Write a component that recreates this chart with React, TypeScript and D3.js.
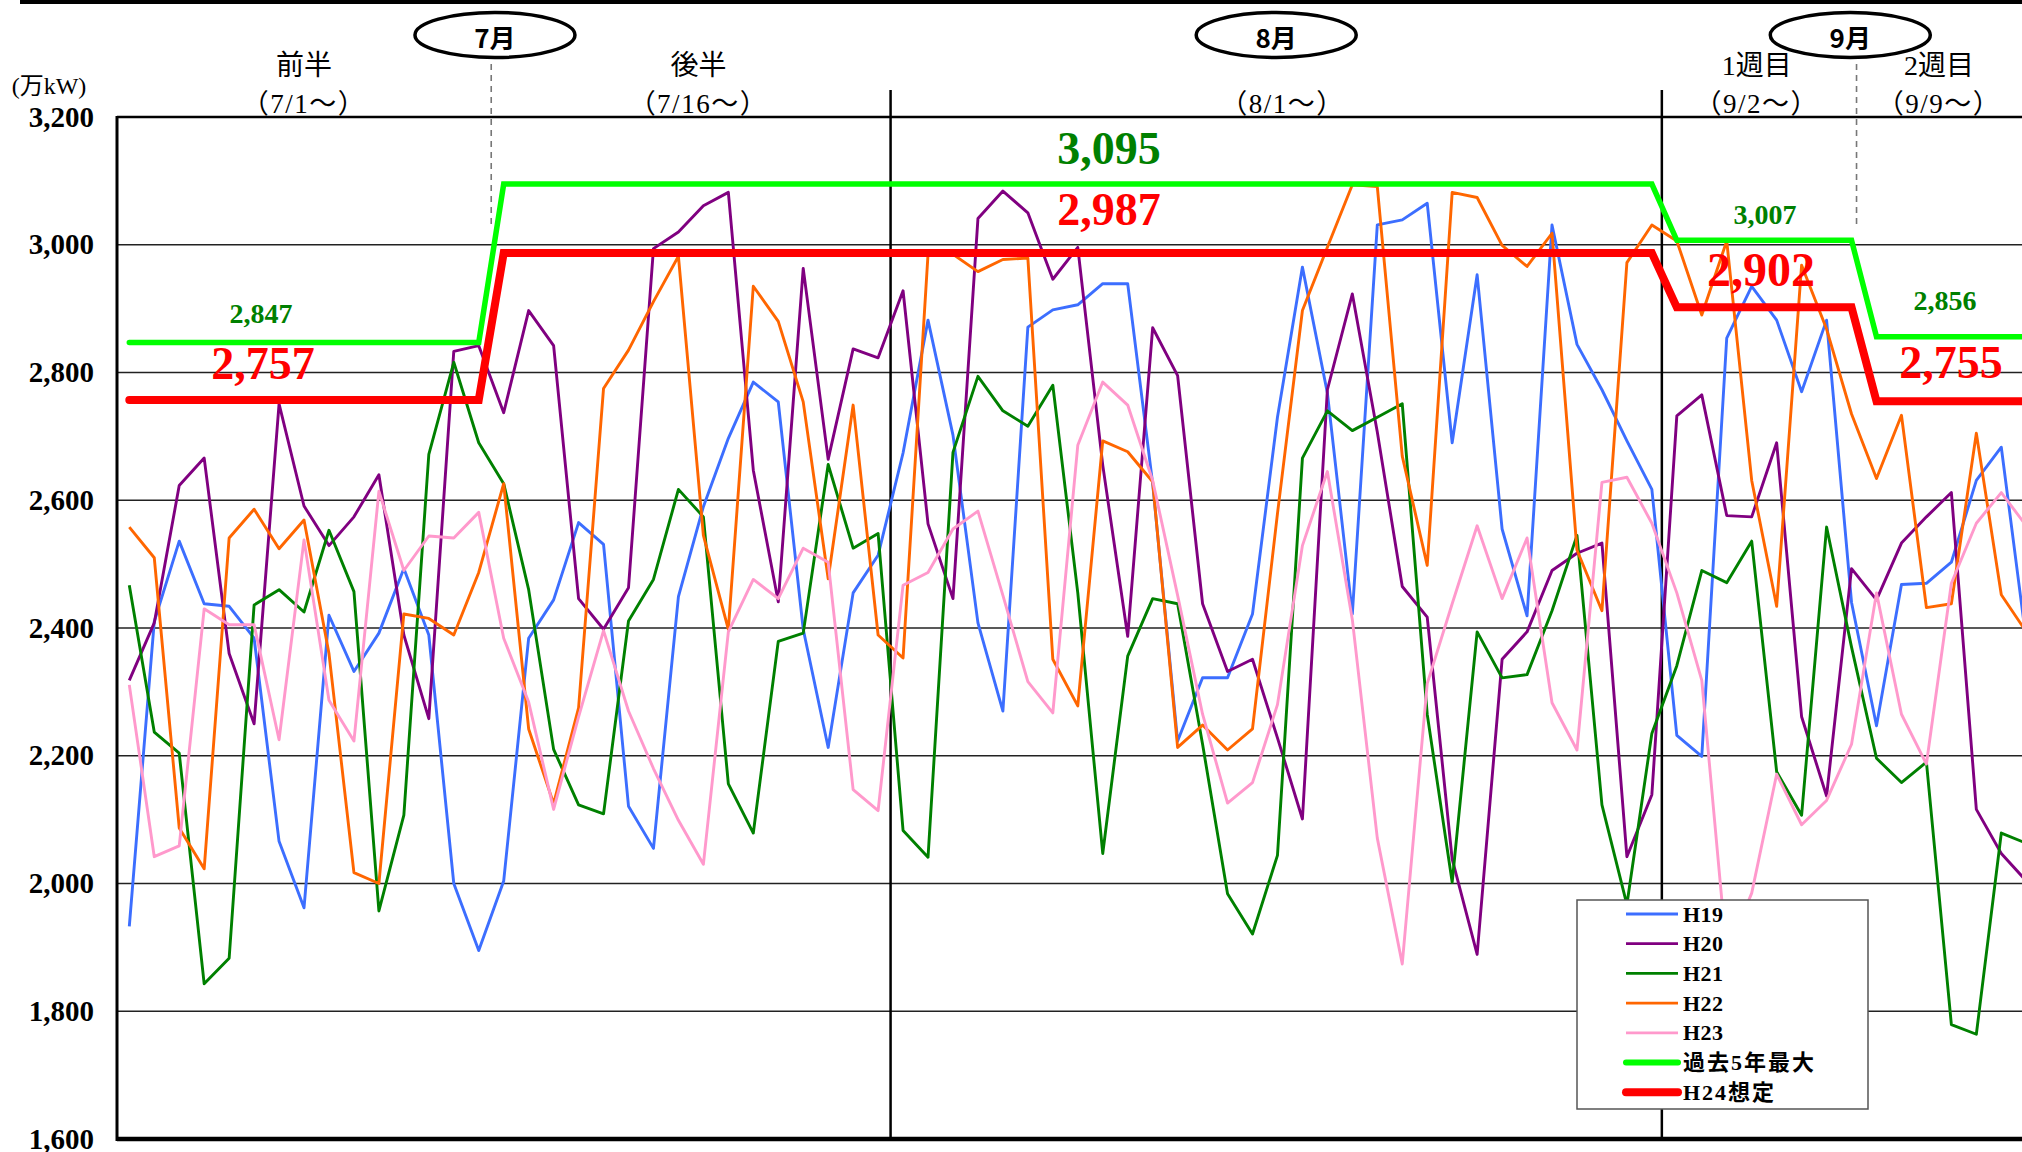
import React, { useEffect, useRef } from "react";
import * as d3 from "d3";

// daily peak demand (万kW), index 0 = 7/1 ... index 76 = 9/15
const days = d3.range(77);

const h19 = [1933, 2410, 2536, 2438, 2434, 2384, 2066, 1962, 2420, 2332, 2392, 2493, 2389, 2000, 1895, 2004, 2384, 2444, 2565, 2531,
  2121, 2055, 2449, 2590, 2697, 2785, 2754, 2398, 2213, 2455, 2514, 2674, 2882, 2702, 2408, 2270, 2871, 2898, 2906, 2939,
  2939, 2626, 2223, 2322, 2322, 2422, 2730, 2965, 2768, 2422, 3031, 3039, 3065, 2690, 2953, 2555, 2419, 3031, 2844, 2773,
  2693, 2617, 2232, 2199, 2854, 2935, 2882, 2770, 2882, 2440, 2247, 2468, 2470, 2503, 2631, 2683, 2380];
const h20 = [2318, 2408, 2623, 2666, 2360, 2250, 2751, 2591, 2529, 2574, 2640, 2389, 2258, 2833, 2842, 2737, 2897, 2842, 2446, 2398,
  2463, 2994, 3020, 3061, 3082, 2647, 2441, 2963, 2664, 2837, 2823, 2928, 2563, 2446, 3041, 3084, 3050, 2946, 2996, 2655,
  2387, 2870, 2795, 2438, 2332, 2351, 2228, 2101, 2773, 2923, 2707, 2465, 2417, 2038, 1889, 2351, 2394, 2490, 2517, 2533,
  2042, 2139, 2732, 2765, 2576, 2574, 2690, 2261, 2137, 2493, 2444, 2533, 2574, 2612, 2116, 2047, 2004];
const h21 = [2467, 2237, 2204, 1843, 1883, 2436, 2460, 2425, 2553, 2457, 1957, 2107, 2672, 2816, 2690, 2626, 2460, 2210, 2123, 2109,
  2411, 2476, 2617, 2574, 2156, 2079, 2379, 2392, 2656, 2525, 2548, 2083, 2041, 2675, 2794, 2740, 2716, 2780, 2455, 2047,
  2356, 2446, 2438, 2218, 1984, 1921, 2044, 2666, 2740, 2709, 2730, 2751, 2265, 2002, 2394, 2322, 2327, 2427, 2545, 2123,
  1967, 2235, 2341, 2490, 2471, 2536, 2175, 2107, 2558, 2370, 2196, 2158, 2190, 1779, 1764, 2079, 2063];
const h22 = [2558, 2510, 2087, 2023, 2541, 2586, 2524, 2569, 2360, 2017, 2000, 2422, 2415, 2389, 2487, 2626, 2242, 2125, 2275, 2775,
  2835, 2911, 2982, 2545, 2398, 2935, 2880, 2754, 2477, 2749, 2389, 2353, 2985, 2985, 2958, 2977, 2979, 2351, 2278, 2693,
  2676, 2629, 2213, 2248, 2209, 2242, 2579, 2897, 2996, 3094, 3091, 2669, 2498, 3082, 3074, 2999, 2966, 3018, 2522, 2427,
  2972, 3031, 3006, 2890, 3006, 2631, 2434, 2968, 2868, 2735, 2634, 2733, 2432, 2438, 2705, 2452, 2394];
const h23 = [2311, 2042, 2059, 2430, 2405, 2405, 2225, 2538, 2287, 2223, 2614, 2490, 2544, 2541, 2581, 2384, 2284, 2116, 2261, 2396,
  2270, 2180, 2099, 2030, 2394, 2476, 2446, 2525, 2503, 2147, 2114, 2467, 2487, 2555, 2583, 2451, 2316, 2267, 2686, 2785,
  2749, 2631, 2451, 2265, 2126, 2158, 2280, 2529, 2645, 2413, 2071, 1874, 2313, 2438, 2560, 2446, 2541, 2283, 2209, 2628,
  2636, 2564, 2455, 2318, 1890, 1985, 2171, 2092, 2130, 2218, 2455, 2265, 2187, 2470, 2564, 2612, 2560];

const seriesNames = ["H19", "H20", "H21", "H22", "H23"];
const seriesValues = [h19, h20, h21, h22, h23];
const seriesColors = ["#3c6eff", "#800080", "#008000", "#ff6600", "#ff99cc"];

// period values (start day index, end day index, value)
const maxPeriods = [
  { start: 0, end: 14, value: 2847 },
  { start: 15, end: 61, value: 3095 },
  { start: 62, end: 69, value: 3007 },
  { start: 70, end: 76, value: 2856 },
];
const planPeriods = [
  { start: 0, end: 14, value: 2757 },
  { start: 15, end: 61, value: 2987 },
  { start: 62, end: 69, value: 2902 },
  { start: 70, end: 76, value: 2755 },
];

const yTicks = [1600, 1800, 2000, 2200, 2400, 2600, 2800, 3000, 3200];

const months = [
  { label: "7月", at: 14.65 },
  { label: "8月", at: 45.95 },
  { label: "9月", at: 68.95 },
];
const periodLabels = [
  { top: "前半", bottom: "（7/1～）", at: 7.0 },
  { top: "後半", bottom: "（7/16～）", at: 22.8 },
  { top: "", bottom: "（8/1～）", at: 46.2 },
  { top: "1週目", bottom: "（9/2～）", at: 65.2 },
  { top: "2週目", bottom: "（9/9～）", at: 72.5 },
];
const solidBreaks = [30.5, 61.4];
const dashedBreaks = [14.5, 69.2];

const legendNames = [...seriesNames, "過去5年最大", "H24想定"];

const fontFamily = "'Liberation Serif', 'Noto Sans CJK JP', serif";

function App() {
  const ref = useRef(null);

  useEffect(() => {
    const width = 2022;
    const height = 1152;
    const svg = d3.select(ref.current).attr("width", width).attr("height", height);
    svg.selectAll("*").remove();

    const xScale = d3.scaleLinear().domain([0, 76]).range([129.3, 129.3 + 76 * 24.96]);
    const yScale = d3.scaleLinear().domain([1600, 3200]).range([1139, 117]);
    const plotLeft = 117;
    const plotRight = width;

    // top rule
    svg.append("rect").attr("x", 20).attr("y", 0).attr("width", width - 20).attr("height", 4).attr("fill", "#000");

    // gridlines
    svg.append("g")
      .selectAll("line")
      .data(yTicks.filter(d => d > 1600))
      .enter()
      .append("line")
      .attr("x1", plotLeft)
      .attr("x2", plotRight)
      .attr("y1", d => yScale(d))
      .attr("y2", d => yScale(d))
      .attr("stroke", d => (d === 3200 ? "#000" : "#222"))
      .attr("stroke-width", d => (d === 3200 ? 2.5 : 1.4));

    // y axis labels
    svg.append("g")
      .selectAll("text")
      .data(yTicks)
      .enter()
      .append("text")
      .attr("x", 94)
      .attr("y", d => yScale(d) + 9.5)
      .attr("text-anchor", "end")
      .style("font-family", fontFamily)
      .style("font-weight", "bold")
      .style("font-size", "29px")
      .text(d => d3.format(",")(d));

    svg.append("text")
      .attr("x", 49)
      .attr("y", 94)
      .attr("text-anchor", "middle")
      .style("font-family", fontFamily)
      .style("font-size", "24px")
      .text("(万kW)");

    // month separators
    svg.append("g")
      .selectAll("line")
      .data(solidBreaks)
      .enter()
      .append("line")
      .attr("x1", d => xScale(d))
      .attr("x2", d => xScale(d))
      .attr("y1", 90)
      .attr("y2", 1139)
      .attr("stroke", "#000")
      .attr("stroke-width", 2.5);

    svg.append("g")
      .selectAll("line")
      .data(dashedBreaks)
      .enter()
      .append("line")
      .attr("x1", d => xScale(d))
      .attr("x2", d => xScale(d))
      .attr("y1", 64)
      .attr("y2", 224)
      .attr("stroke", "#777")
      .attr("stroke-width", 1.6)
      .attr("stroke-dasharray", "6,5");

    // month ellipses
    const monthG = svg.append("g").selectAll("g").data(months).enter().append("g");
    monthG.append("ellipse")
      .attr("cx", d => xScale(d.at))
      .attr("cy", 35)
      .attr("rx", 80)
      .attr("ry", 22.5)
      .attr("fill", "#fff")
      .attr("stroke", "#000")
      .attr("stroke-width", 3.5);
    monthG.append("text")
      .attr("x", d => xScale(d.at))
      .attr("y", 48)
      .attr("text-anchor", "middle")
      .style("font-family", "'Noto Sans CJK JP', sans-serif")
      .style("font-weight", "bold")
      .style("font-size", "26px")
      .text(d => d.label);

    // period labels
    const perG = svg.append("g").selectAll("g").data(periodLabels).enter().append("g");
    perG.append("text")
      .attr("x", d => xScale(d.at))
      .attr("y", 75)
      .attr("text-anchor", "middle")
      .style("font-family", fontFamily)
      .style("font-size", "28px")
      .text(d => d.top);
    perG.append("text")
      .attr("x", d => xScale(d.at))
      .attr("y", 113)
      .attr("text-anchor", "middle")
      .style("font-family", fontFamily)
      .style("font-size", "27px")
      .style("letter-spacing", "1.5px")
      .text(d => d.bottom);

    // left and bottom axis lines
    svg.append("line").attr("x1", plotLeft).attr("x2", plotLeft).attr("y1", 116).attr("y2", 1141)
      .attr("stroke", "#000").attr("stroke-width", 3);
    svg.append("line").attr("x1", plotLeft).attr("x2", plotRight).attr("y1", 1139).attr("y2", 1139)
      .attr("stroke", "#000").attr("stroke-width", 4.5);

    // yearly series
    const line = d3.line()
      .x((d, i) => xScale(days[i]))
      .y(d => yScale(d));

    svg.append("g")
      .selectAll("path")
      .data(seriesValues)
      .enter()
      .append("path")
      .attr("d", d => line(d))
      .attr("fill", "none")
      .attr("stroke", (d, i) => seriesColors[i])
      .attr("stroke-width", 2.9)
      .attr("stroke-linejoin", "round");

    // step lines
    const expand = periods => periods.flatMap(p => d3.range(p.start, p.end + 1).map(i => [i, p.value]));
    const stepLine = d3.line().x(d => xScale(d[0])).y(d => yScale(d[1]));

    svg.append("path")
      .attr("d", stepLine(expand(maxPeriods)))
      .attr("fill", "none")
      .attr("stroke", "#00ff00")
      .attr("stroke-width", 5.5)
      .attr("stroke-linecap", "round");

    svg.append("path")
      .attr("d", stepLine(expand(planPeriods)))
      .attr("fill", "none")
      .attr("stroke", "#ff0000")
      .attr("stroke-width", 8)
      .attr("stroke-linecap", "round");

    // value annotations
    const maxLabels = [
      { value: 2847, at: 5.28, dy: -28.5, size: 28 },
      { value: 3095, at: 39.25, dy: -35, size: 46 },
      { value: 3007, at: 65.53, dy: -26, size: 28 },
      { value: 2856, at: 72.74, dy: -36, size: 28 },
    ];
    const planLabels = [
      { value: 2757, at: 5.36, dy: -36, size: 46 },
      { value: 2987, at: 39.25, dy: -43, size: 46 },
      { value: 2902, at: 65.37, dy: -37, size: 48 },
      { value: 2755, at: 72.98, dy: -38, size: 46 },
    ];
    const drawLabels = (data, color) => {
      svg.append("g")
        .selectAll("text")
        .data(data)
        .enter()
        .append("text")
        .attr("x", d => xScale(d.at))
        .attr("y", d => yScale(d.value) + d.dy + d.size * 0.33)
        .attr("text-anchor", "middle")
        .attr("fill", color)
        .style("font-family", fontFamily)
        .style("font-weight", "bold")
        .style("font-size", d => d.size + "px")
        .text(d => d3.format(",")(d.value));
    };
    drawLabels(maxLabels, "#008000");
    drawLabels(planLabels, "#ff0000");

    // legend
    const legend = svg.append("g").attr("transform", "translate(1577, 900)");
    legend.append("rect")
      .attr("width", 291)
      .attr("height", 209)
      .attr("fill", "#fff")
      .attr("stroke", "#555")
      .attr("stroke-width", 1.5);
    const legendColors = [...seriesColors, "#00ff00", "#ff0000"];
    const legendWidths = [2.8, 2.8, 2.8, 2.8, 2.8, 6, 8];
    const rows = legend.selectAll("g").data(legendNames).enter().append("g")
      .attr("transform", (d, i) => `translate(0, ${14 + i * 29.7})`);
    rows.append("line")
      .attr("x1", 49)
      .attr("x2", 101)
      .attr("stroke", (d, i) => legendColors[i])
      .attr("stroke-width", (d, i) => legendWidths[i])
      .attr("stroke-linecap", (d, i) => (i >= 5 ? "round" : "butt"));
    rows.append("text")
      .attr("x", 106)
      .attr("y", 7.5)
      .style("font-family", fontFamily)
      .style("font-weight", "bold")
      .style("font-size", "22px")
      .style("letter-spacing", (d, i) => (i >= 5 ? "2px" : "0.5px"))
      .text(d => d);
  }, []);

  return (
    <div>
      <svg ref={ref} style={{ position: "absolute", left: 0, top: 0, background: "#fff" }}></svg>
    </div>
  );
}

export default App;
